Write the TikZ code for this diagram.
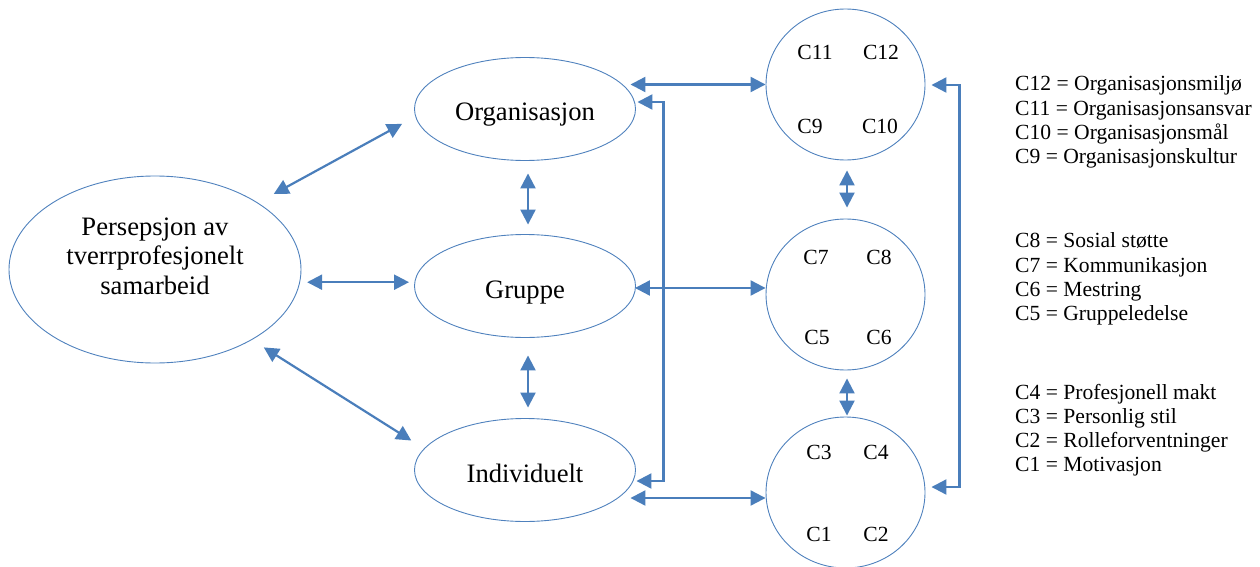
\documentclass[tikz,border=0pt]{standalone}
\usepackage{fontspec}
\setmainfont{Liberation Serif}
\usetikzlibrary{arrows.meta,shapes.geometric}
\definecolor{kant}{HTML}{4F81BD}
\definecolor{pilblaa}{HTML}{4A7EBB}

\begin{document}
\begin{tikzpicture}[x=1pt, y=-1pt,
    omriss/.style={ellipse, draw=kant, line width=0.9pt, inner sep=0pt},
    oval/.style={omriss, minimum width=221pt, minimum height=103pt, text height=24pt, text depth=0pt,
        font=\fontsize{26.6}{29.5}\selectfont},
    sirkel/.style={omriss, minimum width=159pt, minimum height=151pt},
    kode/.style={inner sep=0pt, font=\fontsize{21.6}{24.2}\selectfont},
    dobbel/.style={draw=pilblaa, line width=2.2pt,
        {Triangle[length=15pt,width=15pt]}-{Triangle[length=15pt,width=15pt]}}]
        \useasboundingbox (0,0) rectangle (1260,567);

        \node[omriss, minimum width=292pt, minimum height=187pt] (p) at (155,269.5) {};
        \node[align=center, inner sep=0pt, font=\fontsize{26.6}{29.5}\selectfont] (ptekst) at (155,256)
            {Persepsjon av\\tverrprofesjonelt\\samarbeid};
        \node[oval] (o) at (525,109) {Organisasjon};
        \node[oval] (g) at (525,286) {Gruppe};
        \node[oval] (i) at (525,470) {Individuelt};

        \node[sirkel] (k3) at (845.5,84.5) {};
        \node[sirkel] (k2) at (845.5,294.5) {};
        \node[sirkel] (k1) at (845.5,492.5) {};

        \node[kode] (c11) at (815,52) {C11};
        \node[kode] (c12) at (881,52) {C12};
        \node[kode] (c9) at (810,126) {C9};
        \node[kode] (c10) at (880,126) {C10};
        \node[kode] (c7) at (816,257) {C7};
        \node[kode] (c8) at (879,257) {C8};
        \node[kode] (c5) at (817,337) {C5};
        \node[kode] (c6) at (879,337) {C6};
        \node[kode] (c3) at (819,452) {C3};
        \node[kode] (c4) at (876,452) {C4};
        \node[kode] (c1) at (819,534) {C1};
        \node[kode] (c2) at (876,534) {C2};

        \node[kode, align=left, anchor=west] (l3) at (1015,122)
            {C12 = Organisasjonsmiljø\\C11 = Organisasjonsansvar\\C10 = Organisasjonsmål\\C9 = Organisasjonskultur};
        \node[kode, align=left, anchor=west] (l2) at (1015,279)
            {C8 = Sosial støtte\\C7 = Kommunikasjon\\C6 = Mestring\\C5 = Gruppeledelse};
        \node[kode, align=left, anchor=west] (l1) at (1015,430)
            {C4 = Profesjonell makt\\C3 = Personlig stil\\C2 = Rolleforventninger\\C1 = Motivasjon};

        \draw[dobbel, shorten <=18pt, shorten >=15pt] (p.33) -- (o.184);
        \draw[dobbel, shorten <=7pt, shorten >=5pt] (p.-5) -- (p.-5 -| g.west);
        \draw[dobbel, shorten <=14pt, shorten >=15pt] (p.-36) -- (i.168);

        \draw[dobbel, shorten <=12.5pt, shorten >=9.5pt] ([xshift=3pt]o.south) -- ([xshift=3pt]g.north);
        \draw[dobbel, shorten <=17.5pt, shorten >=10.5pt] ([xshift=3pt]g.south) -- ([xshift=3pt]i.north);

        \draw[dobbel, shorten <=-5.5pt] (k3.west -| o.east) -- (k3.west);
        \draw[dobbel, shorten <=-1pt] ([shift={(0,2)}]g.east) -- ([shift={(0,-6.5)}]k2.west);
        \draw[dobbel] ([shift={(-5.5,28)}]i.east) -- ([shift={(0,5.5)}]k1.west);

        % brakett mellom ovalene
        \coordinate (vo) at ([shift={(1.5,-7)}]o.east);
        \coordinate (vi) at ([shift={(0.5,11)}]i.east);
        \draw[dobbel] (vo) -- ++(26,0) |- (vi);

        % brakett mellom sirklene
        \draw[dobbel] ([shift={(6,0.5)}]k3.east) -- ++(28,0) |- ([shift={(6,-5.5)}]k1.east);

        \draw[dobbel, shorten <=10pt, shorten >=11pt] ([xshift=1.5pt]k3.south) -- ([xshift=1.5pt]k2.north);
        \draw[dobbel, shorten <=8pt, shorten >=1pt] ([xshift=1.5pt]k2.south) -- ([xshift=1.5pt]k1.north);
\end{tikzpicture}
\end{document}
